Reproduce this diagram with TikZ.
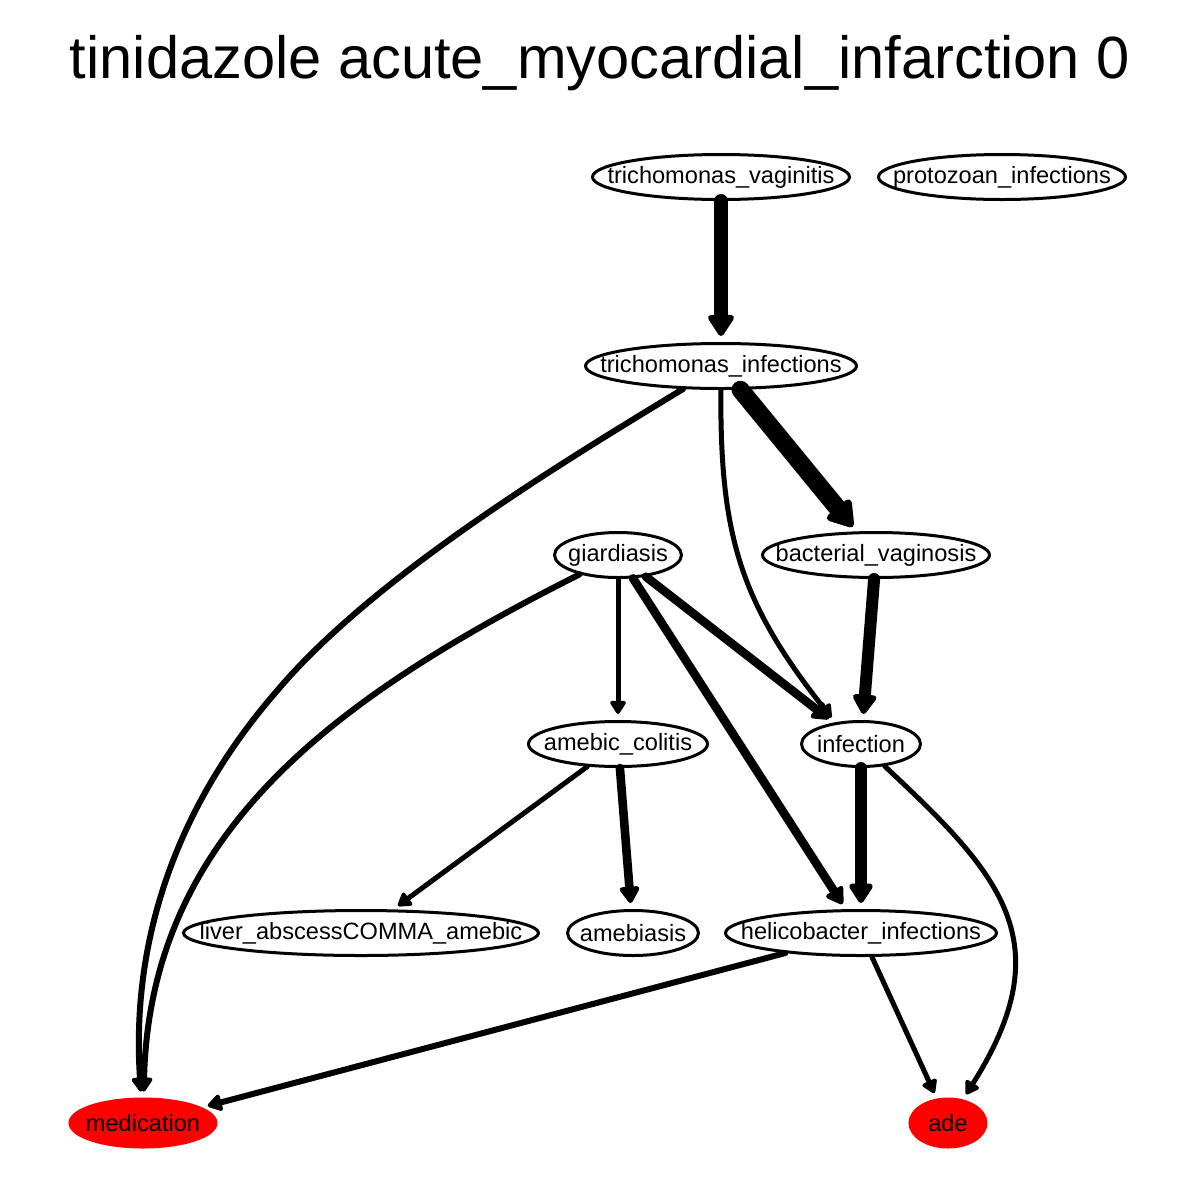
\documentclass[tikz,border=0pt]{standalone}
\usepackage{fontspec}
\setmainfont{Liberation Sans}
\usetikzlibrary{shapes.geometric, arrows.meta}
\tikzset{disease/.style={ellipse, draw, line width=1.5pt, inner sep=0pt, minimum height=22.5pt, font=\fontsize{11.8}{14}\selectfont}}
\tikzset{target/.style={disease, draw=red, fill=red, minimum height=24pt}}
\tikzset{link/.style={line width=#1, line cap=round, -{Triangle[length=5pt 1, width=5.5pt 1.3, round]}, shorten >=3pt}}
\tikzset{link/.default=2.5pt}
\newcommand{\lbl}[1]{\makebox[0pt]{#1}}

\begin{document}
\begin{tikzpicture}[x=0.5pt, y=-0.5pt]
            \useasboundingbox (0,0) rectangle (1200,1200);
            \node[font=\fontsize{29.8}{36}\selectfont] (title) at (600,63) {tinidazole acute\_myocardial\_infarction 0};
            \node[disease, minimum width=128.5pt] (tv) at (721,177) {\lbl{trichomonas\_vaginitis}};
            \node[disease, minimum width=123.5pt] (pi) at (1002,177) {\lbl{protozoan\_infections}};
            \node[disease, minimum width=135.5pt] (ti) at (721,366) {\lbl{trichomonas\_infections}};
            \node[disease, minimum width=63.5pt] (giar) at (618,555) {\lbl{giardiasis}};
            \node[disease, minimum width=113.5pt] (bv) at (876,555) {\lbl{bacterial\_vaginosis}};
            \node[disease, minimum width=89.5pt] (ac) at (618,744) {\lbl{amebic\_colitis}};
            \node[disease, minimum width=59.5pt] (inf) at (861,744) {\lbl{infection}};
            \node[disease, minimum width=177.5pt] (liver) at (361,933) {\lbl{liver\_abscessCOMMA\_amebic}};
            \node[disease, minimum width=65.5pt] (amebiasis) at (633,933) {\lbl{amebiasis}};
            \node[disease, minimum width=135.5pt] (hel) at (861,933) {\lbl{helicobacter\_infections}};
            \node[target, minimum width=73pt] (med) at (143,1123) {\lbl{medication}};
            \node[target, minimum width=38pt] (ade) at (948,1123) {\lbl{ade}};
            \draw[link=7pt] (tv) -- (ti);
            \draw[link=9pt] (ti) -- (bv);
            \draw[link=3pt] (ti) .. controls (551,469) and (370,580) .. (276,692) .. controls (184,798) and (130,930) .. (med);
            \draw[link] (ti) .. controls (720,533) and (739,601) .. (inf.140);
            \draw[link] (giar) -- (ac);
            \draw[link=4.3pt] (giar) -- (inf);
            \draw[link=4.3pt] (giar) -- (hel);
            \draw[link=3pt] (giar) .. controls (340,695) and (150,830) .. (med);
            \draw[link=6pt] (bv) -- (inf);
            \draw[link] (ac) -- (liver);
            \draw[link=4.3pt] (ac) -- (amebiasis);
            \draw[link=6pt] (inf) -- (hel);
            \draw[link] (inf) .. controls (1000,874) and (1063,941) .. (ade);
            \draw[link=3pt] (hel) -- (med);
            \draw[link] (hel) -- (ade);
        \end{tikzpicture}
\end{document}
